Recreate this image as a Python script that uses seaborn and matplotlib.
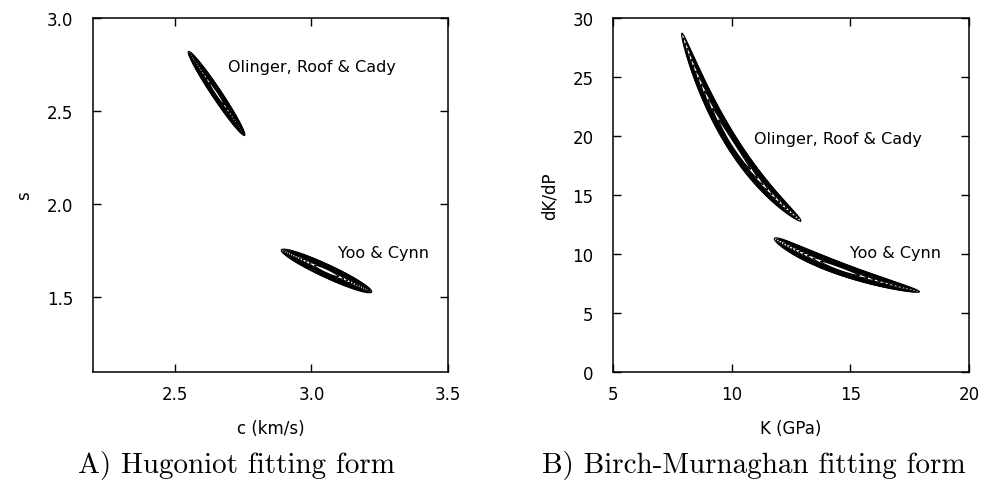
import numpy as np
import seaborn as sns
import matplotlib.pyplot as plt

# confidence regions: tip-to-tip extent and relative thickness
hug_labels = ["Olinger, Roof & Cady", "Yoo & Cynn"]
hug_tip1 = [(2.55, 2.82), (2.89, 1.755)]
hug_tip2 = [(2.755, 2.37), (3.22, 1.53)]
hug_ratio = [0.095, 0.13]
hug_text_pos = [(2.694, 2.742), (3.097, 1.744)]

bm_labels = ["Olinger, Roof & Cady", "Yoo & Cynn"]
bm_tip1 = [(7.9, 28.7), (11.8, 11.3)]
bm_tip2 = [(12.9, 12.8), (17.9, 6.8)]
bm_ratio = [0.058, 0.08]
bm_text_pos = [(10.94, 19.75), (14.99, 10.17)]

hug_xlim, hug_ylim = (2.2, 3.5), (1.1, 3.0)
bm_xlim, bm_ylim = (5, 20), (0, 30)
hug_xticks = [2.5, 3.0, 3.5]
hug_yticks = [1.5, 2.0, 2.5, 3.0]
bm_xticks = [5, 10, 15, 20]
bm_yticks = [0, 5, 10, 15, 20, 25, 30]

n_levels = 14


def contours(tip1, tip2, ratio, xr, yr, log=False):
    p1, p2 = np.array(tip1, float), np.array(tip2, float)
    sc = np.array([1 / (xr[1] - xr[0]), 1 / (yr[1] - yr[0])])
    if log:
        sc = sc * np.sqrt(p1 * p2)
        p1, p2 = np.log(p1), np.log(p2)
    c = (p1 + p2) / 2
    u = (p2 - p1) / 2
    un = u * sc
    v = np.array([-un[1], un[0]]) * ratio / sc
    t = np.linspace(0, 2 * np.pi, 300)
    out = []
    for k in range(1, n_levels + 1):
        f = np.sqrt(k / n_levels)
        pts = c + f * (np.outer(np.cos(t), u) + np.outer(np.sin(t), v))
        if log:
            pts = np.exp(pts)
        out.append(pts)
    return out


sns.set_style("ticks")
plt.rcParams['font.family'] = ['DejaVu Sans']
plt.rcParams.update({"text.color": "black", "axes.labelcolor": "black",
                     "xtick.color": "black", "ytick.color": "black",
                     "axes.edgecolor": "black"})

fig = plt.figure(figsize=(9.87, 4.81), dpi=100)
axA = fig.add_axes([0.0942, 0.2245, 0.3597, 0.736])
axB = fig.add_axes([0.6211, 0.2245, 0.3607, 0.736])

panels = [
    (axA, hug_tip1, hug_tip2, hug_ratio, hug_labels, hug_text_pos, hug_xlim, hug_ylim, False,
     hug_xticks, hug_yticks, "c (km/s)", "s", "%.1f"),
    (axB, bm_tip1, bm_tip2, bm_ratio, bm_labels, bm_text_pos, bm_xlim, bm_ylim, True,
     bm_xticks, bm_yticks, "K (GPa)", "dK/dP", "%g"),
]

for (ax, t1, t2, rat, labs, tpos, xl, yl, lg, xt, yt, xlab, ylab, fmt) in panels:
    for a, b, r, lab, pos in zip(t1, t2, rat, labs, tpos):
        for pts in contours(a, b, r, xl, yl, log=lg):
            sns.lineplot(x=pts[:, 0], y=pts[:, 1], sort=False, estimator=None,
                         color="black", lw=0.9, ax=ax)
        ax.text(pos[0], pos[1], lab, fontsize=11.5, va="center", ha="left")
    ax.set_xlim(xl)
    ax.set_ylim(yl)
    ax.set_xticks(xt)
    ax.set_yticks(yt)
    ax.set_xticklabels([fmt % v for v in xt])
    ax.set_yticklabels([fmt % v for v in yt])
    ax.tick_params(direction="in", length=6, width=1, top=True, right=True, labelsize=12)
    ax.tick_params(axis="y", pad=14)
    ax.tick_params(axis="x", pad=9)
    for s in ax.spines.values():
        s.set_linewidth(1.1)
        s.set_visible(True)
    ax.set_xlabel(xlab, fontsize=12, labelpad=12)
    ax.set_ylabel(ylab, fontsize=12, labelpad=10)

fig.text(0.240, 0.0166, "A) Hugoniot fitting form", family="cmr10", fontsize=21,
         ha="center", va="baseline")
fig.text(0.764, 0.0166, "B) Birch-Murnaghan fitting form", family="cmr10", fontsize=21,
         ha="center", va="baseline")

fig.savefig("out.png", dpi=100)
